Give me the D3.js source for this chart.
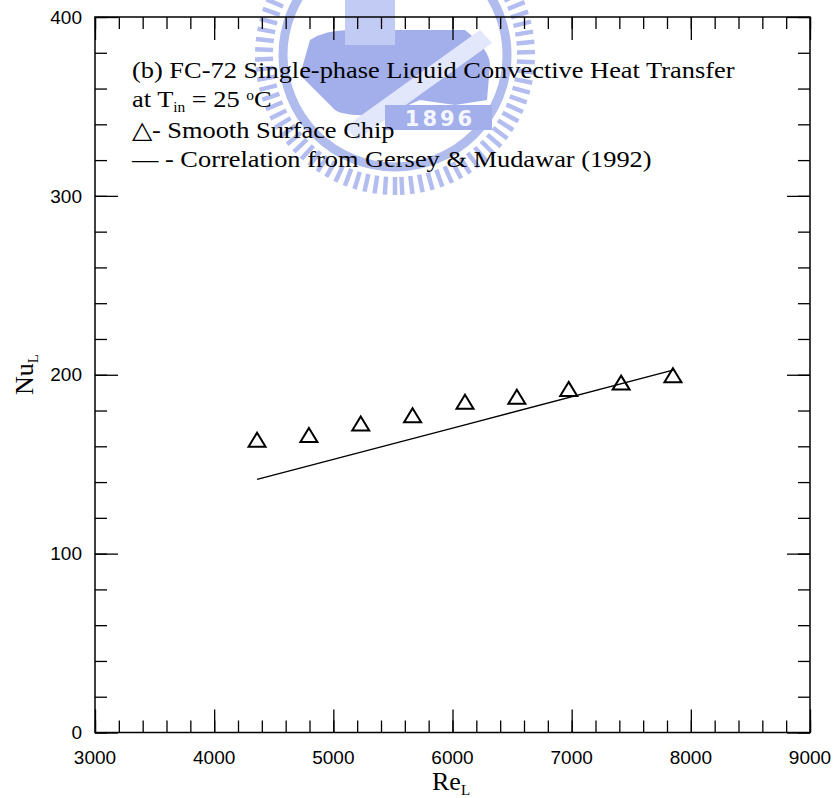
<!DOCTYPE html>
<html>
<head>
<meta charset="utf-8">
<script src="https://cdn.jsdelivr.net/npm/d3@7/dist/d3.min.js"></script>
<style>
  body { margin: 0; background: #fff; }
  svg { display: block; }
</style>
</head>
<body>
<div id="chart"></div>
<script>
// measured data, smooth surface chip
var reData = [4360, 4795, 5230, 5665, 6105, 6540, 6975, 7415, 7850];
var nuData = [163.7, 166.3, 172.8, 177.4, 184.9, 187.7, 192.1, 195.6, 199.7];

// correlation line (Gersey & Mudawar 1992)
var reCorr = [4360, 6105, 7850];
var nuCorr = [141.5, 172.0, 202.6];

var xTicks = [3000, 4000, 5000, 6000, 7000, 8000, 9000];
var yTicks = [0, 100, 200, 300, 400];

var width = 837, height = 798;
var margin = { top: 17, right: 27, bottom: 65.5, left: 95 };
var w = width - margin.left - margin.right;
var h = height - margin.top - margin.bottom;

var svg = d3.select("#chart")
    .append("svg")
    .attr("width", width)
    .attr("height", height);

// faint watermark logo behind the plot
var wm = svg.append("g").attr("transform", "translate(395,55)");
var angles = d3.range(0, 360, 4.2);
wm.selectAll(".dash").data(angles).enter().append("line")
    .attr("x1", 0).attr("y1", 122).attr("x2", 0).attr("y2", 140)
    .attr("transform", function(a) { return "rotate(" + a + ")"; })
    .attr("stroke", "#b3bdef").attr("stroke-width", 4.5);
wm.append("circle").attr("r", 112).attr("fill", "none")
    .attr("stroke", "#b0bbee").attr("stroke-width", 9);
wm.append("path")
    .attr("d", "M-85,-15 Q-70,-25 -45,-25 L-40,-55 L0,-55 L0,-25 L70,-25 Q95,-5 95,10 L92,45 L60,50 L25,45 L-10,60 Q-50,62 -60,55 L-95,20 Z")
    .attr("fill", "#a2afea");
wm.append("rect").attr("x", -50).attr("y", -55).attr("width", 50).attr("height", 45)
    .attr("fill", "#c2cbf3");
wm.append("path")
    .attr("d", "M-50,72 L85,-25 L97,-12 L-38,85 Z")
    .attr("fill", "#e3e7fb");
wm.append("rect").attr("x", -10).attr("y", 50).attr("width", 107).attr("height", 25)
    .attr("fill", "#a2afea");
wm.append("text").attr("x", 45).attr("y", 71).attr("text-anchor", "middle")
    .attr("font-family", "DejaVu Sans").attr("font-weight", "bold")
    .attr("font-size", "21px").attr("letter-spacing", "3px")
    .attr("fill", "#f4f6fe").text("1896");

var g = svg.append("g")
    .attr("transform", "translate(" + margin.left + "," + margin.top + ")");

var x = d3.scaleLinear().domain([3000, 9000]).range([0, w]);
var y = d3.scaleLinear().domain([0, 400]).range([h, 0]);

// frame
g.append("rect").attr("width", w).attr("height", h)
    .attr("fill", "none").attr("stroke", "#000").attr("stroke-width", 1.5);

// inward ticks on all four sides
function ticks(axisFn, scale, vals, size, transform) {
    var a = g.append("g").attr("transform", transform)
        .call(axisFn(scale).tickValues(vals).tickSize(-size).tickFormat(""));
    a.select(".domain").remove();
    a.selectAll(".tick line").attr("stroke", "#000").attr("stroke-width", 1.3);
}
var xMinor = d3.range(3000, 9001, 200);
var yMinor = d3.range(0, 401, 20);
ticks(d3.axisBottom, x, xMinor, 12, "translate(0," + h + ")");
ticks(d3.axisBottom, x, xTicks, 23, "translate(0," + h + ")");
ticks(d3.axisTop, x, xMinor, 12, "translate(0,0)");
ticks(d3.axisTop, x, xTicks, 23, "translate(0,0)");
ticks(d3.axisLeft, y, yMinor, 12, "translate(0,0)");
ticks(d3.axisLeft, y, yTicks, 23, "translate(0,0)");
ticks(d3.axisRight, y, yMinor, 12, "translate(" + w + ",0)");
ticks(d3.axisRight, y, yTicks, 23, "translate(" + w + ",0)");

// tick labels
g.selectAll(".xl").data(xTicks).enter().append("text")
    .attr("x", function(d) { return x(d); })
    .attr("y", h + 31)
    .attr("text-anchor", "middle")
    .attr("font-family", "Liberation Sans, Arial")
    .attr("font-size", "19px")
    .text(function(d) { return d; });
g.selectAll(".yl").data(yTicks).enter().append("text")
    .attr("x", -13)
    .attr("y", function(d) { return y(d); })
    .attr("dy", "0.35em")
    .attr("text-anchor", "end")
    .attr("font-family", "Liberation Sans, Arial")
    .attr("font-size", "19px")
    .text(function(d) { return d; });

// axis titles
var serif = "Liberation Serif, Times New Roman";
var xt = svg.append("text").attr("x", 432).attr("y", 790)
    .attr("font-family", serif).attr("font-size", "26px");
xt.append("tspan").text("Re");
xt.append("tspan").attr("font-size", "15px").attr("dy", 5).text("L");

var yt = svg.append("text")
    .attr("transform", "translate(33,395) rotate(-90)")
    .attr("font-family", serif).attr("font-size", "26px");
yt.append("tspan").text("Nu");
yt.append("tspan").attr("font-size", "15px").attr("dy", 5).text("L");

// correlation line
var line = d3.line()
    .x(function(d) { return x(d[0]); })
    .y(function(d) { return y(d[1]); });
g.append("path")
    .datum(d3.zip(reCorr, nuCorr))
    .attr("d", line)
    .attr("fill", "none")
    .attr("stroke", "#000")
    .attr("stroke-width", 1.4);

// data triangles
g.selectAll(".tri").data(d3.zip(reData, nuData)).enter().append("path")
    .attr("transform", function(d) { return "translate(" + x(d[0]) + "," + y(d[1]) + ")"; })
    .attr("d", "M0,-7 L8.5,7 L-8.5,7 Z")
    .attr("fill", "none")
    .attr("stroke", "#000")
    .attr("stroke-width", 2);

// annotation text (slightly wide, like the original)
var ann = svg.append("g").attr("font-family", serif).attr("font-size", "24px");
function annLine(yy) {
    return ann.append("text").attr("transform", "translate(132," + yy + ") scale(1.1,1)");
}
annLine(78).text("(b) FC-72 Single-phase Liquid Convective Heat Transfer");
var t2 = annLine(107);
t2.append("tspan").text("at T");
t2.append("tspan").attr("font-size", "14px").attr("dy", 5).text("in");
t2.append("tspan").attr("dy", -5).text(" = 25 ");
t2.append("tspan").attr("font-size", "14px").attr("dy", -7).text("o");
t2.append("tspan").attr("dy", 7).text("C");
annLine(138).text("\u25B3- Smooth Surface Chip");
annLine(167).text("\u2014 - Correlation from Gersey & Mudawar (1992)");
</script>
</body>
</html>
